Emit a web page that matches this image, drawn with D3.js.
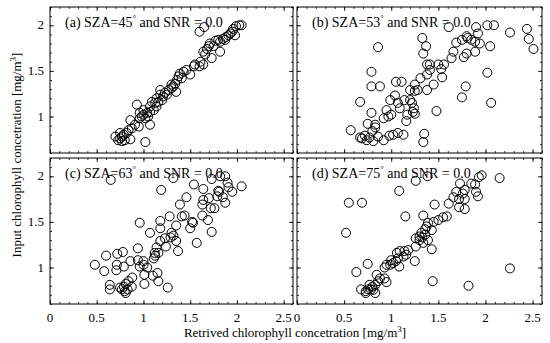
<!DOCTYPE html>
<html>
<head>
<meta charset="utf-8">
<script src="https://cdn.jsdelivr.net/npm/d3@7"></script>
<style>
  body { margin: 0; background: #fff; }
  svg { font-family: "Liberation Serif", "Times New Roman", serif; }
</style>
</head>
<body>
<script>
// panel labels and data (retrieved x, input y)
var panelTitles = ["(a) SZA=45", "(b) SZA=53", "(c) SZA=63", "(d) SZA=75"];
var xTicks = [0, 0.5, 1, 1.5, 2, 2.5];
var yTicks = [1, 1.5, 2];

var panelA = [[1.60,1.93],[1.65,1.98],[2.025,2.00],[2.05,2.00],[1.99,1.99],[1.96,1.96],[1.95,1.93],[1.98,1.89],
  [1.91,1.89],[1.88,1.87],[1.85,1.85],[1.875,1.84],[1.82,1.82],[1.77,1.83],[1.82,1.71],[1.71,1.80],[1.70,1.77],
  [1.68,1.74],[1.64,1.71],[1.66,1.68],[1.73,1.64],[1.64,1.57],[1.60,1.55],[1.55,1.57],[1.50,1.46],[1.46,1.51],
  [1.43,1.49],[1.39,1.47],[1.375,1.44],[1.36,1.40],[1.34,1.36],[1.32,1.33],[1.35,1.27],[1.30,1.31],[1.27,1.29],
  [1.23,1.26],[1.18,1.29],[1.25,1.24],[1.21,1.22],[1.20,1.18],[1.16,1.16],[1.125,1.15],[1.14,1.11],[1.11,1.07],
  [1.07,1.05],[1.09,1.16],[1.04,1.04],[1.00,1.02],[0.98,1.00],[1.02,0.98],[1.05,1.00],[0.96,0.98],[1.07,0.91],
  [0.93,1.13],[0.86,0.96],[0.91,0.91],[0.95,0.89],[0.875,0.87],[0.84,0.85],[0.82,0.82],[0.79,0.80],[0.77,0.78],
  [0.75,0.76],[0.73,0.74],[0.70,0.78],[0.77,0.73],[0.80,0.74],[0.86,0.75],[0.75,0.82],[1.02,0.72],[1.61,1.60],
  [1.80,1.84],[1.93,1.91],[1.75,1.77],[1.54,1.55],[1.41,1.42],[1.30,1.35],[1.18,1.24],[1.14,1.20],[1.07,1.11],
  [1.00,1.07],[0.96,1.04]];

var panelB = [[1.61,1.98],[1.90,1.98],[2.02,2.00],[2.09,2.00],[2.26,1.92],[2.44,1.96],[2.46,1.85],[2.51,1.74],
  [1.92,1.91],[1.80,1.88],[1.81,1.86],[1.69,1.81],[1.75,1.84],[1.85,1.84],[1.89,1.82],[1.94,1.80],[2.05,1.77],
  [1.89,1.71],[1.80,1.69],[1.77,1.65],[1.66,1.71],[1.64,1.64],[1.33,1.86],[1.34,1.69],[1.37,1.77],[0.86,1.76],
  [1.38,1.57],[1.41,1.57],[1.50,1.57],[1.56,1.57],[1.53,1.52],[1.41,1.51],[1.38,1.46],[1.31,1.42],[1.54,1.43],
  [1.45,1.35],[1.38,1.29],[1.25,1.35],[1.28,1.29],[1.25,1.28],[1.20,1.29],[1.05,1.38],[1.11,1.38],[0.79,1.49],
  [0.79,1.33],[0.88,1.33],[1.04,1.23],[0.99,1.18],[1.07,1.15],[1.14,1.18],[1.20,1.18],[1.22,1.15],[1.24,1.09],
  [1.25,1.03],[1.23,1.05],[1.17,1.02],[1.16,0.95],[1.00,1.02],[0.95,1.07],[0.97,1.00],[0.92,0.98],[1.09,1.09],
  [1.48,1.06],[0.67,1.16],[0.79,1.04],[0.75,0.92],[0.83,0.91],[0.83,0.88],[0.80,0.84],[0.57,0.85],[0.67,0.77],
  [0.72,0.79],[0.77,0.77],[0.81,0.73],[0.86,0.78],[0.92,0.74],[0.98,0.79],[1.02,0.80],[1.07,0.82],[1.13,0.80],
  [1.35,0.81],[1.34,0.72],[1.79,1.33],[1.75,1.21],[2.06,1.15],[2.02,1.48],[0.69,0.76],[0.74,0.74]];

var panelC = [[0.65,1.96],[1.32,1.98],[1.19,1.85],[1.73,1.97],[1.82,2.00],[1.875,2.00],[1.90,1.93],[1.91,1.88],
  [1.95,1.83],[2.05,1.89],[1.54,1.91],[1.64,1.86],[1.80,1.84],[1.81,1.83],[1.79,1.78],[1.85,1.77],[1.875,1.71],
  [1.70,1.76],[1.64,1.74],[1.63,1.69],[1.72,1.65],[1.76,1.65],[1.46,1.77],[1.39,1.69],[1.41,1.56],[1.44,1.57],
  [1.52,1.50],[1.53,1.49],[1.63,1.57],[1.69,1.52],[1.73,1.39],[1.50,1.43],[1.57,1.27],[1.28,1.56],[1.18,1.51],
  [1.18,1.43],[0.96,1.49],[1.07,1.38],[1.35,1.46],[1.30,1.38],[1.32,1.35],[1.29,1.33],[1.23,1.32],[1.18,1.29],
  [1.35,1.29],[1.24,1.23],[1.37,1.18],[1.14,1.22],[1.12,1.16],[1.125,1.13],[1.11,1.10],[1.16,1.16],[0.94,1.21],
  [0.78,1.17],[0.72,1.15],[0.60,1.13],[0.94,1.08],[1.00,1.07],[1.00,1.03],[0.86,1.07],[0.79,1.01],[0.715,1.03],
  [0.71,0.97],[0.48,1.03],[0.58,0.96],[0.96,1.01],[1.04,1.00],[1.15,0.94],[1.10,0.91],[1.01,0.92],[1.16,0.85],
  [1.26,0.78],[1.01,0.82],[0.88,0.89],[0.84,0.85],[0.81,0.82],[0.79,0.79],[0.77,0.76],[0.80,0.74],[0.81,0.72],
  [0.83,0.76],[0.75,0.78],[0.64,0.81],[0.64,0.76],[0.875,0.79]];

var panelD = [[0.55,1.71],[0.69,1.71],[0.52,1.38],[1.085,1.84],[1.26,1.95],[1.385,2.00],[1.96,2.01],[1.93,1.99],
  [2.15,1.98],[1.85,1.92],[1.89,1.91],[1.73,1.92],[1.78,1.85],[1.69,1.83],[1.76,1.81],[1.66,1.77],[1.72,1.75],
  [1.78,1.75],[1.90,1.83],[1.92,1.78],[1.61,1.70],[1.72,1.66],[1.78,1.64],[1.46,1.69],[1.15,1.56],[1.34,1.57],
  [1.59,1.56],[1.55,1.55],[1.50,1.52],[1.45,1.50],[1.39,1.49],[1.375,1.45],[1.36,1.42],[1.43,1.41],[1.32,1.38],
  [1.36,1.36],[1.33,1.33],[1.30,1.34],[1.26,1.32],[1.30,1.30],[1.39,1.30],[1.34,1.27],[1.43,1.20],[1.26,1.23],
  [1.18,1.19],[1.14,1.18],[1.16,1.14],[1.09,1.18],[1.06,1.16],[1.13,1.12],[1.07,1.10],[1.05,1.07],[1.00,1.08],
  [0.99,1.03],[0.95,1.03],[1.02,1.05],[1.085,1.01],[0.93,1.00],[1.25,1.07],[0.75,1.04],[0.63,0.95],[0.845,0.92],
  [0.88,0.88],[0.93,0.88],[0.86,0.85],[0.83,0.81],[0.95,0.84],[0.77,0.81],[0.80,0.79],[0.785,0.76],[0.755,0.76],
  [0.73,0.74],[0.68,0.76],[0.73,0.72],[0.83,0.72],[0.81,0.755],[1.44,0.85],[1.82,0.80],[2.26,0.99]];

var panelData = [panelA, panelB, panelC, panelD];

var w = 550, h = 343;
//frame boxes of the four panels
var cols = [[50, 293], [297, 542]];
var rows = [[7, 153], [158, 304]];

var svg = d3.select("body").append("svg")
  .attr("width", w)
  .attr("height", h);

var minorX = d3.range(0, 2.6001, 0.1).map(function(v) { return +v.toFixed(1); });
var minorY = d3.range(0.6, 2.2001, 0.1).map(function(v) { return +v.toFixed(1); });

panelData.forEach(function(data, i) {
  var c = cols[i % 2], r = rows[Math.floor(i / 2)];
  var x = d3.scaleLinear().domain([0, 2.6]).range(c);
  var y = d3.scaleLinear().domain([0.6, 2.2]).range([r[1], r[0]]);
  var g = svg.append("g");

  //inward ticks on every side, minor then major
  function ticks(axis, scale, vals, size, pos) {
    g.append("g")
      .attr("transform", pos)
      .call(axis(scale).tickValues(vals).tickSize(size).tickFormat(""))
      .call(function(s) {
        s.select(".domain").remove();
        s.selectAll("line").attr("stroke", "#000").attr("stroke-width", 0.8);
      });
  }
  ticks(d3.axisBottom, x, minorX, -2, "translate(0," + r[1] + ")");
  ticks(d3.axisBottom, x, xTicks, -4, "translate(0," + r[1] + ")");
  ticks(d3.axisTop, x, minorX, -2, "translate(0," + r[0] + ")");
  ticks(d3.axisTop, x, xTicks, -4, "translate(0," + r[0] + ")");
  ticks(d3.axisLeft, y, minorY, -2, "translate(" + c[0] + ",0)");
  ticks(d3.axisLeft, y, yTicks, -4, "translate(" + c[0] + ",0)");
  ticks(d3.axisRight, y, minorY, -2, "translate(" + c[1] + ",0)");
  ticks(d3.axisRight, y, yTicks, -4, "translate(" + c[1] + ",0)");

  g.append("rect")
    .attr("x", c[0]).attr("y", r[0])
    .attr("width", c[1] - c[0]).attr("height", r[1] - r[0])
    .attr("fill", "none").attr("stroke", "#000").attr("stroke-width", 1);

  //tick labels only on outer axes
  if (i % 2 == 0) {
    g.selectAll(".yl").data(yTicks).enter().append("text")
      .attr("x", c[0] - 6)
      .attr("y", function(d) { return y(d) + 4; })
      .attr("text-anchor", "end")
      .attr("font-size", 13)
      .text(function(d) { return d; });
  }
  if (i >= 2) {
    g.selectAll(".xl").data(xTicks).enter().append("text")
      .attr("x", function(d) { return x(d); })
      .attr("y", r[1] + 18)
      .attr("text-anchor", "middle")
      .attr("font-size", 13)
      .text(function(d) { return d; });
  }

  g.selectAll("circle")
    .data(data)
    .enter()
    .append("circle")
    .attr("cx", function(d) { return x(d[0]); })
    .attr("cy", function(d) { return y(d[1]); })
    .attr("r", 4.5)
    .attr("fill", "none")
    .attr("stroke", "#000")
    .attr("stroke-width", 1);

  var t = g.append("text")
    .attr("x", c[0] + 15)
    .attr("y", r[0] + 20)
    .attr("font-size", 14);
  t.append("tspan").text(panelTitles[i]);
  t.append("tspan").attr("dy", -6).attr("font-size", 9).text("°");
  t.append("tspan").attr("dy", 6).text(" and SNR = 0.0");
});

//axis titles
var xl = svg.append("text")
  .attr("x", 295).attr("y", 337)
  .attr("text-anchor", "middle")
  .attr("font-size", 13);
xl.append("tspan").text("Retrived chlorophyll concetration [mg/m");
xl.append("tspan").attr("dy", -5).attr("font-size", 9).text("3");
xl.append("tspan").attr("dy", 5).text("]");

var yl = svg.append("text")
  .attr("transform", "translate(21,155) rotate(-90)")
  .attr("text-anchor", "middle")
  .attr("font-size", 13);
yl.append("tspan").text("Input chlorophyll concetration [mg/m");
yl.append("tspan").attr("dy", -5).attr("font-size", 9).text("3");
yl.append("tspan").attr("dy", 5).text("]");
</script>
</body>
</html>
